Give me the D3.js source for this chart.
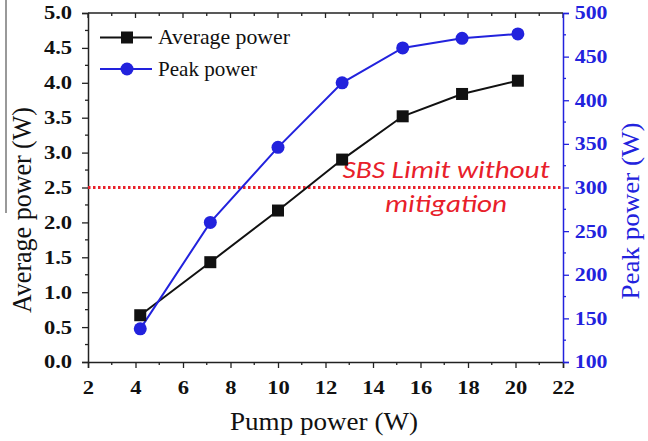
<!DOCTYPE html>
<html><head><meta charset="utf-8">
<script src="https://cdn.jsdelivr.net/npm/d3@7/dist/d3.min.js"></script>
<style>body{margin:0;background:#fff;}svg{display:block;} .tick text{font-family:'Liberation Serif','Times New Roman',serif !important;}</style>
</head><body><svg id="c" width="648" height="441"></svg>
<script>
const pump = [4.2, 7.15, 10.0, 12.7, 15.25, 17.75, 20.1];
const avgPower = [0.67, 1.43, 2.17, 2.90, 3.52, 3.84, 4.03];
const peakPower = [138, 260, 346, 420, 460, 471, 476];
const xTicks = [2,4,6,8,10,12,14,16,18,20,22];
const yLeftTicks = [0,0.5,1,1.5,2,2.5,3,3.5,4,4.5,5];
const yRightTicks = [100,150,200,250,300,350,400,450,500];
const sbsLimit = 2.5;

const svg = d3.select("#c");
const L=88,R=563,T=13,B=362;
const x = d3.scaleLinear().domain([2,22]).range([L,R]);
const yl = d3.scaleLinear().domain([0,5]).range([B,T]);
const yr = d3.scaleLinear().domain([100,500]).range([B,T]);
const serif = "'Liberation Serif','Times New Roman',serif";
const SX = 1.22;

// artifact line at left
svg.append("line").attr("x1",6).attr("x2",6).attr("y1",0).attr("y2",213).attr("stroke","#555").attr("stroke-width",1.2);

// top border
svg.append("line").attr("x1",L).attr("x2",R).attr("y1",T).attr("y2",T).attr("stroke","#222").attr("stroke-width",1.5);
const xMinor = d3.range(3,22,2);
svg.append("g").selectAll("line").data(xTicks.concat(xMinor)).join("line")
  .attr("x1",d=>x(d)).attr("x2",d=>x(d)).attr("y1",T).attr("y2",d=>T+(d%2===0?5:3))
  .attr("stroke","#222").attr("stroke-width",1.3);

function styleTicks(sel, color){
  sel.attr("font-family",serif);
  sel.selectAll("text").attr("font-weight","bold").attr("font-size",18.5).attr("fill",color)
    .attr("font-family",serif);
}

// bottom axis
const gx = svg.append("g").attr("transform",`translate(0,${B})`)
  .call(d3.axisBottom(x).tickValues(xTicks).tickSize(6).tickFormat(d3.format("d")));
gx.select(".domain").attr("stroke","#222").attr("stroke-width",1.5);
gx.selectAll(".tick line").attr("stroke","#222").attr("stroke-width",1.3);
styleTicks(gx,"#111");
gx.selectAll("text").attr("y",32).attr("dy",0).attr("transform",`scale(${SX},1)`);
svg.append("g").selectAll("line").data(xMinor).join("line")
  .attr("x1",d=>x(d)).attr("x2",d=>x(d)).attr("y1",B).attr("y2",B+3).attr("stroke","#222").attr("stroke-width",1.3);

// left axis
const gy = svg.append("g").attr("transform",`translate(${L},0)`)
  .call(d3.axisLeft(yl).tickValues(yLeftTicks).tickSize(6).tickFormat(d3.format(".1f")));
gy.select(".domain").attr("stroke","#222").attr("stroke-width",1.5);
gy.selectAll(".tick line").attr("stroke","#222").attr("stroke-width",1.3);
styleTicks(gy,"#111");
gy.selectAll("text").attr("x",-13).attr("transform",`scale(${SX},1)`);
svg.append("g").selectAll("line").data(d3.range(0.25,5,0.5)).join("line")
  .attr("x1",L).attr("x2",L-3).attr("y1",d=>yl(d)).attr("y2",d=>yl(d)).attr("stroke","#222").attr("stroke-width",1.3);

// right axis
const blue = "#2222dd";
const gr = svg.append("g").attr("transform",`translate(${R},0)`)
  .call(d3.axisRight(yr).tickValues(yRightTicks).tickSize(6).tickFormat(d3.format("d")));
gr.select(".domain").attr("stroke",blue).attr("stroke-width",1.5);
gr.selectAll(".tick line").attr("stroke",blue).attr("stroke-width",1.3);
styleTicks(gr,blue);
gr.selectAll("text").attr("x",10).attr("transform",`scale(1.18,1)`);
svg.append("g").selectAll("line").data(d3.range(125,500,50)).join("line")
  .attr("x1",R).attr("x2",R+3).attr("y1",d=>yr(d)).attr("y2",d=>yr(d)).attr("stroke",blue).attr("stroke-width",1.3);

// axis titles
svg.append("text").attr("x",324).attr("y",430).attr("text-anchor","middle")
  .attr("font-family",serif).attr("font-size",25).attr("fill","#111")
  .attr("textLength",188).attr("lengthAdjust","spacingAndGlyphs").text("Pump power (W)");
svg.append("text").attr("transform",`translate(31,210) rotate(-90)`).attr("text-anchor","middle")
  .attr("font-family",serif).attr("font-size",27).attr("fill","#111")
  .attr("textLength",206).attr("lengthAdjust","spacingAndGlyphs").text("Average power (W)");
svg.append("text").attr("transform",`translate(639,211) rotate(-90)`).attr("text-anchor","middle")
  .attr("font-family",serif).attr("font-size",26).attr("fill",blue)
  .attr("textLength",177).attr("lengthAdjust","spacingAndGlyphs").text("Peak power (W)");

// SBS limit line
svg.append("line").attr("x1",L).attr("x2",R).attr("y1",yl(sbsLimit)).attr("y2",yl(sbsLimit))
  .attr("stroke","#e8202a").attr("stroke-width",3).attr("stroke-dasharray","2.5,2.5");
const sans = "Carlito,'Open Sans','DejaVu Sans',sans-serif";
svg.append("text").attr("x",446).attr("y",178).attr("text-anchor","middle").attr("font-family",sans)
  .attr("font-style","italic").attr("font-size",24).attr("fill","#e8202a")
  .attr("textLength",207).attr("lengthAdjust","spacingAndGlyphs").text("SBS Limit without");
svg.append("text").attr("x",446).attr("y",212).attr("text-anchor","middle").attr("font-family",sans)
  .attr("font-style","italic").attr("font-size",24).attr("fill","#e8202a")
  .attr("textLength",122).attr("lengthAdjust","spacingAndGlyphs").text("mitigation");

// lines
const avgData = pump.map((p,i)=>[p,avgPower[i]]);
const peakData = pump.map((p,i)=>[p,peakPower[i]]);
svg.append("path").datum(avgData).attr("fill","none").attr("stroke","#111").attr("stroke-width",2)
  .attr("d",d3.line().x(d=>x(d[0])).y(d=>yl(d[1])));
svg.append("path").datum(peakData).attr("fill","none").attr("stroke",blue).attr("stroke-width",2)
  .attr("d",d3.line().x(d=>x(d[0])).y(d=>yr(d[1])));
svg.append("g").selectAll("rect").data(avgData).join("rect")
  .attr("x",d=>x(d[0])-6).attr("y",d=>yl(d[1])-6).attr("width",12).attr("height",12).attr("fill","#111");
svg.append("g").selectAll("circle").data(peakData).join("circle")
  .attr("cx",d=>x(d[0])).attr("cy",d=>yr(d[1])).attr("r",6.5).attr("fill",blue);

// legend
const lg = svg.append("g");
lg.append("line").attr("x1",100).attr("x2",152).attr("y1",37.5).attr("y2",37.5).attr("stroke","#111").attr("stroke-width",2);
lg.append("rect").attr("x",121).attr("y",31.5).attr("width",12).attr("height",12).attr("fill","#111");
lg.append("text").attr("x",158).attr("y",44).attr("font-family",serif).attr("font-size",22).attr("fill","#111")
  .attr("textLength",132).attr("lengthAdjust","spacingAndGlyphs").text("Average power");
lg.append("line").attr("x1",100).attr("x2",152).attr("y1",69).attr("y2",69).attr("stroke",blue).attr("stroke-width",2);
lg.append("circle").attr("cx",127).attr("cy",69).attr("r",6.5).attr("fill",blue);
lg.append("text").attr("x",158).attr("y",76).attr("font-family",serif).attr("font-size",22).attr("fill","#111")
  .attr("textLength",99).attr("lengthAdjust","spacingAndGlyphs").text("Peak power");
</script></body></html>
